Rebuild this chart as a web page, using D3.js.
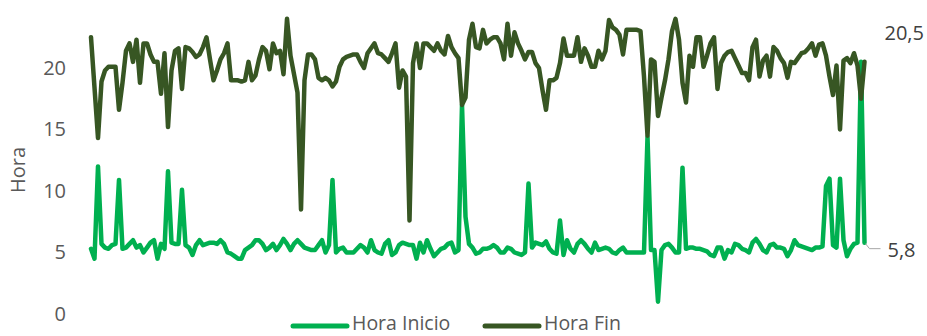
<!DOCTYPE html>
<html>
<head>
<meta charset="utf-8">
<script src="https://cdn.jsdelivr.net/npm/d3@7"></script>
<style>
  html, body { margin: 0; padding: 0; background: #fff; }
  svg { display: block; font-family: "Open Sans", "Noto Sans", sans-serif; }
</style>
</head>
<body>
<svg id="chart" width="927" height="336"></svg>
<script>
// Hora de inicio y de fin de cada jornada registrada
const horaInicio = [
  5.3, 4.5, 12.0, 5.7, 5.4, 5.3, 5.6, 5.7, 10.9, 5.3,
  5.4, 5.7, 6.0, 5.4, 5.6, 5.0, 5.4, 5.8, 6.0, 4.5,
  5.7, 5.3, 11.6, 5.8, 5.7, 5.7, 10.1, 5.6, 5.4, 4.8,
  5.6, 6.0, 5.6, 5.7, 5.8, 5.8, 5.7, 6.0, 5.7, 5.0,
  4.9, 4.7, 4.5, 4.5, 5.2, 5.4, 5.6, 6.0, 6.0, 5.7,
  5.2, 5.4, 5.7, 5.2, 5.6, 6.1, 5.7, 5.2, 5.7, 6.0,
  5.7, 5.4, 5.3, 5.2, 5.2, 5.6, 6.0, 5.0, 5.6, 10.9,
  5.0, 5.3, 5.4, 5.0, 5.0, 5.0, 5.3, 5.6, 5.4, 5.0,
  6.0, 5.2, 5.0, 4.9, 5.7, 6.0, 4.8, 5.0, 5.6, 5.8,
  5.7, 5.6, 5.6, 4.5, 5.8, 5.0, 6.0, 5.3, 4.7, 5.0,
  5.3, 5.4, 5.7, 5.8, 5.0, 5.2, 17.0, 7.9, 5.7, 5.4,
  4.9, 5.0, 5.3, 5.3, 5.4, 5.6, 5.4, 5.0, 5.0, 5.4,
  5.3, 5.0, 4.9, 4.8, 5.0, 10.6, 5.4, 5.8, 5.7, 5.6,
  5.9, 5.3, 5.0, 4.9, 7.6, 4.8, 6.0, 5.3, 5.0, 5.7,
  6.0, 5.7, 5.3, 5.0, 5.8, 5.2, 5.3, 5.4, 5.3, 5.0,
  4.9, 5.2, 5.4, 5.0, 5.0, 5.0, 5.0, 5.0, 5.0, 14.4,
  5.2, 5.2, 1.0, 5.2, 5.6, 5.7, 5.4, 5.0, 5.0, 11.9,
  5.3, 5.4, 5.4, 5.3, 5.3, 5.2, 5.1, 4.8, 4.7, 5.4,
  5.4, 4.5, 5.2, 5.0, 5.7, 5.6, 5.3, 5.2, 5.0, 5.8,
  6.1, 5.7, 5.2, 5.0, 5.6, 5.7, 5.4, 5.4, 5.3, 4.7,
  5.2, 6.0, 5.6, 5.5, 5.4, 5.3, 5.2, 5.4, 5.4, 5.5,
  10.4, 11.0, 5.6, 5.4, 11.0, 6.0, 4.7, 5.3, 5.7, 5.8,
  20.5, 5.8
];

const horaFin = [
  22.5, 18.4, 14.3, 18.9, 19.8, 20.1, 20.1, 20.1, 16.6, 18.8,
  21.4, 22.0, 20.5, 22.3, 18.8, 22.0, 22.0, 21.1, 20.5, 20.5,
  17.9, 21.2, 15.2, 19.8, 21.4, 21.6, 18.3, 21.7, 21.6, 21.3,
  20.9, 21.1, 21.7, 22.5, 20.7, 19.0, 19.8, 20.7, 21.2, 22.0,
  19.0, 19.0, 19.0, 18.9, 19.0, 20.5, 19.0, 19.4, 20.7, 21.7,
  21.4, 19.9, 22.0, 21.2, 21.4, 19.5, 24.0, 21.0, 19.5, 18.0,
  8.5, 19.0, 21.1, 21.1, 20.7, 19.2, 19.0, 19.2, 19.0, 18.5,
  18.9, 20.1, 20.7, 20.9, 21.0, 21.1, 21.1, 20.5, 20.0, 21.2,
  21.6, 22.0, 21.2, 21.1, 20.8, 20.5, 21.2, 22.0, 18.4, 19.8,
  19.3, 7.6, 20.4, 22.0, 20.0, 22.0, 22.0, 21.7, 21.4, 22.0,
  21.4, 21.1, 22.6, 21.7, 21.2, 20.8, 17.0, 17.6, 22.3, 23.6,
  21.7, 21.6, 23.1, 22.0, 22.3, 22.5, 22.5, 22.0, 20.7, 23.6,
  21.0, 22.9, 22.0, 21.4, 20.7, 21.3, 21.3, 20.4, 20.0, 18.2,
  16.6, 19.0, 19.0, 19.2, 20.4, 22.4, 21.0, 21.0, 21.0, 22.5,
  20.5, 21.6, 21.0, 20.1, 20.1, 21.4, 20.7, 21.4, 23.9, 23.3,
  23.1, 22.7, 21.1, 23.1, 23.1, 23.1, 23.1, 23.0, 19.3, 14.5,
  20.7, 20.5, 16.1, 17.6, 19.0, 20.7, 23.0, 24.0, 22.3, 18.8,
  17.2, 21.0, 20.1, 22.5, 22.5, 20.1, 21.0, 22.0, 22.5, 18.3,
  20.4, 21.0, 21.3, 21.4, 20.8, 20.2, 19.6, 19.6, 19.0, 21.7,
  22.3, 19.3, 20.6, 21.0, 19.3, 21.7, 21.4, 20.8, 20.4, 19.2,
  20.5, 20.4, 20.8, 21.2, 21.3, 21.6, 22.0, 21.0, 21.9, 22.0,
  21.0, 19.3, 17.8, 20.2, 15.0, 20.6, 20.8, 20.4, 21.2, 20.2,
  17.5, 20.5
];

// Una jornada por punto
const jornadas = d3.range(1, horaInicio.length + 1);

const yTicks = [0, 5, 10, 15, 20];
const seriesNames = ["Hora Inicio", "Hora Fin"];
const seriesColors = ["#00B050", "#375623"];
const ejeTitulo = "Hora";

const svg = d3.select("#chart");
const plot = { left: 91, right: 864.5, top: 18.8, bottom: 314 };

const x = d3.scalePoint()
  .domain(jornadas)
  .range([plot.left, plot.right]);

const y = d3.scaleLinear()
  .domain([0, 24])
  .range([plot.bottom, plot.top]);

// Eje vertical: solo etiquetas
const yAxis = svg.append("g")
  .attr("transform", `translate(${plot.left},0)`)
  .call(d3.axisLeft(y).tickValues(yTicks).tickSize(0).tickPadding(25).tickFormat(d3.format("d")));
yAxis.select(".domain").remove();
yAxis.selectAll("text")
  .attr("fill", "#595959")
  .style("font-size", "20px")
  .style("font-family", "'Open Sans', sans-serif");

svg.append("text")
  .attr("transform", `translate(25,170) rotate(-90)`)
  .attr("text-anchor", "middle")
  .attr("fill", "#595959")
  .style("font-size", "20px")
  .text(ejeTitulo);

// Líneas
const series = [horaInicio, horaFin];
const line = d3.line()
  .x((d, i) => x(jornadas[i]))
  .y(d => y(d));

series.forEach((vals, k) => {
  svg.append("path")
    .datum(vals)
    .attr("fill", "none")
    .attr("stroke", seriesColors[k])
    .attr("stroke-width", 4.5)
    .attr("stroke-linejoin", "round")
    .attr("stroke-linecap", "round")
    .attr("d", line);
});

// Etiquetas del último valor
const last = jornadas.length - 1;
const fmt = v => d3.format(".1f")(v).replace(".", ",");
const xLast = x(jornadas[last]);

svg.append("text")
  .attr("x", xLast + 20)
  .attr("y", y(horaFin[last]) - 29)
  .attr("dominant-baseline", "central")
  .attr("fill", "#404040")
  .style("font-size", "20px")
  .text(fmt(horaFin[last]));

svg.append("polyline")
  .attr("points", [[xLast + 1, y(horaInicio[last]) + 1], [xLast + 5, y(horaInicio[last]) + 6], [xLast + 16, y(horaInicio[last]) + 6]].map(p => p.join(",")).join(" "))
  .attr("fill", "none")
  .attr("stroke", "#A6A6A6")
  .attr("stroke-width", 1);

svg.append("text")
  .attr("x", xLast + 23)
  .attr("y", y(horaInicio[last]) + 7)
  .attr("dominant-baseline", "central")
  .attr("fill", "#404040")
  .style("font-size", "20px")
  .text(fmt(horaInicio[last]));

// Leyenda
const legendX = [293, 485];
const legend = svg.append("g");
seriesNames.forEach((name, k) => {
  const g = legend.append("g").attr("transform", `translate(${legendX[k]},326)`);
  g.append("line")
    .attr("x1", 0).attr("x2", 54)
    .attr("stroke", seriesColors[k])
    .attr("stroke-width", 5)
    .attr("stroke-linecap", "round");
  g.append("text")
    .attr("x", 59)
    .attr("y", 3.5)
    .attr("fill", "#595959")
    .style("font-size", "19.5px")
    .text(name);
});
</script>
</body>
</html>
